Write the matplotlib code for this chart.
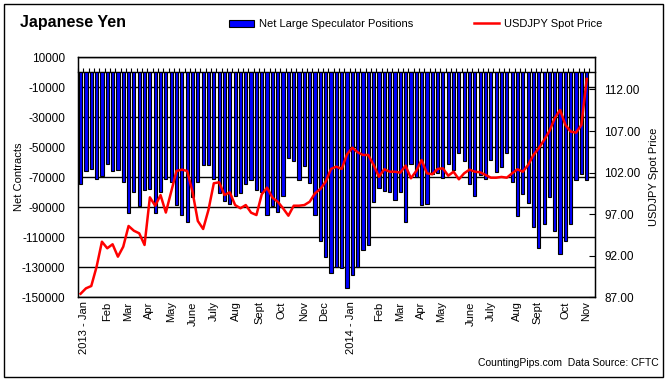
import numpy as np
import matplotlib.pyplot as plt
from matplotlib.patches import Rectangle
from matplotlib.lines import Line2D

plt.rcParams['font.family'] = ['Liberation Sans', 'DejaVu Sans']

# Net large speculator positions (contracts), weekly Jan 2013 - Nov 2014
positions = [
    -74700, -66200, -64700, -71300, -68900, -61300, -66200, -65500, -73300, -94000,
    -80000, -89300, -78700, -78000, -94000, -80000, -71300, -72900, -88700, -95300,
    -100000, -83300, -73300, -62000, -62000, -71300, -80700, -86000, -88000, -82700,
    -80700, -74700, -72000, -78700, -80000, -95300, -89300, -93300, -82700, -57300,
    -59300, -72000, -62700, -74000, -95300, -112700, -123300, -134000, -130000, -130700,
    -144000, -135300, -129600, -118700, -115300, -86700, -77300, -79300, -80000, -85300,
    -80000, -100000, -61300, -70000, -88700, -88000, -68000, -67300, -70700, -61300,
    -65300, -54000, -59300, -74700, -82700, -68700, -71300, -58700, -66700, -63300,
    -54000, -73300, -96000, -81300, -87300, -103300, -117300, -101300, -83300, -106000,
    -121300, -112700, -101300, -72000, -68000, -72000,
]

# USDJPY spot price, same weeks
usdjpy = [
    87.43, 88.08, 88.36, 90.68, 93.69, 92.90, 93.38, 91.89, 93.09, 95.58,
    95.01, 94.70, 93.30, 99.03, 98.02, 99.30, 97.20, 99.70, 102.20, 102.36,
    102.20, 99.70, 96.18, 95.22, 97.52, 100.72, 100.84, 99.31, 99.63, 98.10,
    97.71, 98.10, 97.18, 96.90, 99.39, 100.19, 98.99, 98.50, 97.71, 96.82,
    98.02, 98.02, 98.10, 98.50, 99.51, 100.03, 100.91, 102.44, 102.72, 102.44,
    104.20, 105.00, 104.45, 104.12, 104.12, 102.92, 101.51, 102.40, 102.11, 102.11,
    101.99, 102.84, 101.32, 102.20, 103.52, 101.92, 101.80, 102.44, 102.52, 101.63,
    102.11, 101.20, 101.92, 102.36, 102.11, 102.04, 101.72, 101.39, 101.39, 101.48,
    101.39, 101.92, 102.40, 102.11, 102.92, 104.12, 104.93, 105.93, 107.01, 108.54,
    109.54, 107.73, 106.93, 106.81, 107.73, 113.27,
]

month_labels = ['2013 - Jan', 'Feb', 'Mar', 'Apr', 'May', 'June', 'July', 'Aug',
                'Sept', 'Oct', 'Nov', 'Dec', '2014 - Jan', 'Feb', 'Mar', 'Apr',
                'May', 'June', 'July', 'Aug', 'Sept', 'Oct', 'Nov']
month_pos = [0.6, 4.9, 8.9, 12.8, 16.9, 21.0, 25.0, 29.2, 33.6, 37.8, 41.9, 45.8,
             50.8, 56.0, 60.0, 63.8, 67.7, 73.2, 76.9, 81.9, 85.7, 91.0, 94.9]

left_ticks = np.arange(10000, -150001, -20000)
right_ticks = [87, 92, 97, 102, 107, 112]

x = np.arange(len(positions))

fig = plt.figure(figsize=(6.72, 3.83), dpi=100)
ax = fig.add_axes([0.116, 0.2237, 0.769, 0.6273])

ax.bar(x, positions, width=0.6, color='#0000FF', edgecolor='black',
       linewidth=0.8, zorder=2)
ax.set_xlim(-0.5, len(positions) + 0.5)
ax.set_ylim(-150000, 10000)
ax.set_yticks(left_ticks)
ax.set_yticklabels([str(v) for v in left_ticks])
ax.yaxis.grid(True, color='black', linewidth=1)
ax.set_axisbelow(True)
ax.tick_params(axis='y', length=0, pad=9, labelsize=8.5)
ax.set_xticks(month_pos)
ax.set_xticklabels(month_labels, rotation=90, fontsize=8)
ax.tick_params(axis='x', length=0, pad=3)
ax.set_ylabel('Net Contracts', fontsize=8)
ax.yaxis.set_label_coords(-0.104, 0.5)
for s in ax.spines.values():
    s.set_linewidth(1)

# category axis crossing at zero
sec = ax.secondary_xaxis(150000 / 160000)
sec.set_xticks(np.arange(len(positions) + 1) - 0.5)
sec.tick_params(direction='out', length=3, width=0.8, labeltop=False, labelbottom=False)
sec.spines['top'].set_linewidth(1)

ax2 = ax.twinx()
ax2.plot(x, usdjpy, color='red', linewidth=1.8, zorder=3)
ax2.set_ylim(87, 115.9)
ax2.set_yticks(right_ticks)
ax2.set_yticklabels(['%.2f' % v for v in right_ticks])
ax2.tick_params(axis='y', direction='in', length=4, pad=7, labelsize=8.5)
ax2.set_ylabel('USDJPY Spot Price', fontsize=8, labelpad=6)

fig.text(0.03, 0.942, 'Japanese Yen', fontsize=11.5, fontweight='bold', va='center')

handles = [Rectangle((0, 0), 1, 1, facecolor='#0000FF', edgecolor='black', linewidth=0.8),
           Line2D([0], [0], color='red', linewidth=1.8)]
fig.legend(handles, ['Net Large Speculator Positions', 'USDJPY Spot Price'],
           loc='center', bbox_to_anchor=(0.619, 0.937), ncol=2, frameon=False,
           fontsize=8, handlelength=2.2, handleheight=0.6, columnspacing=5.5,
           handletextpad=0.5)

fig.text(0.981, 0.052, 'CountingPips.com  Data Source: CFTC', fontsize=7.5,
         ha='right', va='center')

fig.patches.append(Rectangle((4 / 672, 6 / 383), 659 / 672, 373 / 383,
                             transform=fig.transFigure, fill=False,
                             edgecolor='black', linewidth=1))

fig.savefig('out.png', dpi=100)
